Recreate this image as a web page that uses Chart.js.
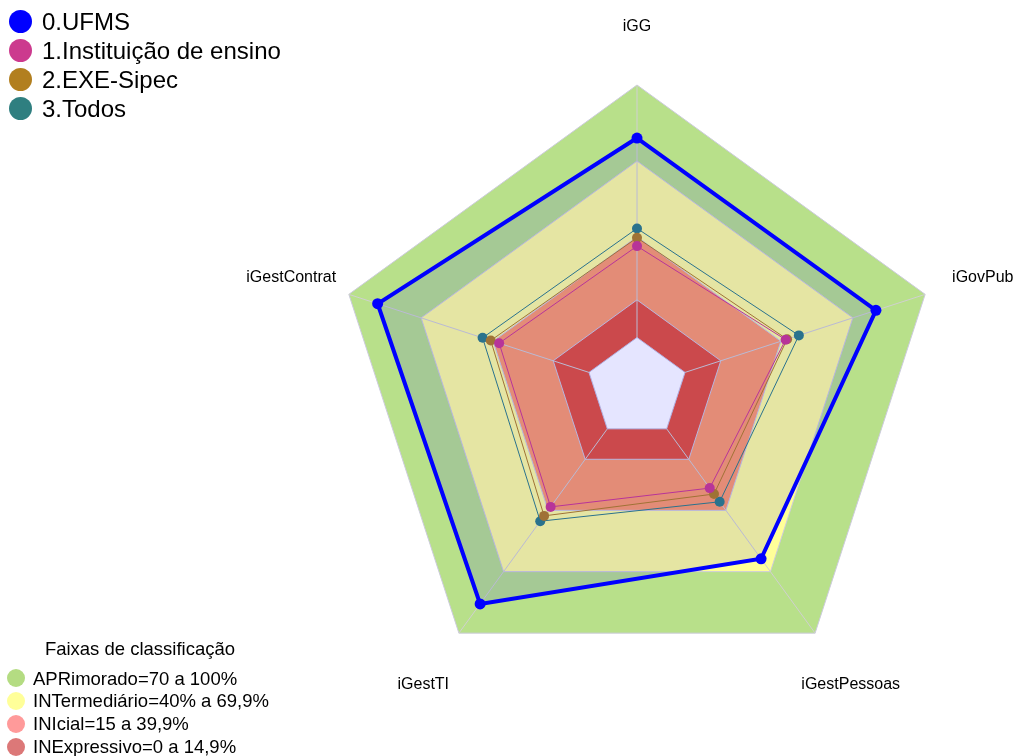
<!DOCTYPE html>
<html><head><meta charset="utf-8">
<script src="https://cdn.jsdelivr.net/npm/chart.js@4"></script>
<style>
html,body{margin:0;padding:0;background:#fff;width:1021px;height:756px;overflow:hidden;font-family:"Liberation Sans",Arial,sans-serif;}
canvas{position:absolute;left:0;top:0;}
.leg{position:absolute;white-space:nowrap;color:#000;}
.dot{position:absolute;border-radius:50%;}
</style></head><body>
<canvas id="bands" width="1021" height="756"></canvas>
<canvas id="series" width="1021" height="756"></canvas>
<div id="legend"></div>
<script>
// ---- data ----
const axes = ['iGG', 'iGovPub', 'iGestPessoas', 'iGestTI', 'iGestContrat'];
const ufms = [79.0, 79.5, 63.6, 85.7, 88.0];
const instEnsino = [36.2, 41.9, 29.0, 38.2, 37.4];
const exeSipec = [39.5, 42.5, 31.9, 42.6, 40.9];
const todos = [43.2, 47.4, 35.7, 45.2, 44.3];
const seriesNames = ['0.UFMS', '1.Instituição de ensino', '2.EXE-Sipec', '3.Todos'];
const seriesColors = ['#0000ff', '#cc3a8e', '#b27f1f', '#2f7f80'];
const bandLimits = [100, 69.9, 39.9, 14.9];
const bandNames = ['APRimorado=70 a 100%', 'INTermediário=40% a 69,9%', 'INIcial=15 a 39,9%', 'INExpressivo=0 a 14,9%'];
const bandFill = ['#b8e08a', '#ffff99', '#fd9c68', '#e35238'];
const bandLegendColors = ['#b4dc82', '#ffff99', '#ff9a9a', '#dc7878'];
const legendTitle = 'Faixas de classificação';
const scaleMin = -20, scaleMax = 100;

const FONT = '"Liberation Sans", Arial, sans-serif';
const layout = {padding: {left: 334, right: 81, top: 85, bottom: 65}};

function scaleOpts(showSpokes) {
  return {
    min: scaleMin, max: scaleMax, startAngle: 0,
    ticks: {display: false},
    grid: {display: false, z: 1},
    angleLines: {display: showSpokes, color: '#d0d0d0', lineWidth: 1},
    pointLabels: {display: false}
  };
}

// ---- bottom layer: classification bands + spokes on top of them ----
const bandDatasets = bandLimits.map((lim, i) => ({
  label: bandNames[i],
  data: axes.map(() => lim),
  fill: 'origin',
  backgroundColor: bandFill[i],
  borderColor: '#cccbdc',
  borderWidth: 1,
  pointRadius: 0,
  order: 10 - i
}));

new Chart(document.getElementById('bands'), {
  type: 'radar',
  data: {labels: axes, datasets: bandDatasets},
  options: {
    responsive: false, animation: false, layout,
    plugins: {legend: {display: false}, tooltip: {enabled: false}},
    elements: {line: {tension: 0}},
    scales: {r: scaleOpts(true)}
  }
});

// ---- top layer: series ----
const seriesData = [ufms, instEnsino, exeSipec, todos];
const seriesDatasets = seriesData.map((d, i) => ({
  label: seriesNames[i],
  data: d,
  fill: i === 0 ? 'start' : false,
  backgroundColor: i === 0 ? 'rgba(0,0,255,0.1)' : 'rgba(0,0,0,0)',
  borderColor: seriesColors[i],
  borderWidth: i === 0 ? 4 : 1,
  pointRadius: i === 0 ? 5.5 : 5,
  pointBackgroundColor: seriesColors[i],
  pointBorderColor: seriesColors[i],
  pointBorderWidth: 0,
  order: i
}));
seriesDatasets.push({
  label: 'centro',
  data: axes.map(() => 0),
  fill: 'start',
  backgroundColor: '#ffffff',
  borderColor: '#c4c0dc',
  borderWidth: 1,
  pointRadius: 0,
  order: 20
});

const axisLabelPlugin = {
  id: 'axisLabels',
  afterDraw(chart) {
    const s = chart.scales.r;
    const ctx = chart.ctx;
    ctx.save();
    ctx.font = '16px ' + FONT;
    ctx.fillStyle = '#000';
    ctx.textAlign = 'center';
    ctx.textBaseline = 'middle';
    axes.forEach((t, i) => {
      const p = s.getPointPosition(i, s.drawingArea * 1.2);
      ctx.fillText(t, p.x, p.y + 2);
    });
    ctx.restore();
  }
};

new Chart(document.getElementById('series'), {
  type: 'radar',
  data: {labels: axes, datasets: seriesDatasets},
  options: {
    responsive: false, animation: false, layout,
    plugins: {legend: {display: false}, tooltip: {enabled: false}},
    elements: {line: {tension: 0}},
    scales: {r: scaleOpts(false)}
  },
  plugins: [axisLabelPlugin]
});

// ---- legends (HTML text) ----
const leg = document.getElementById('legend');
function addItem(cx, cy, r, color, text, textX, baseline, fs) {
  const d = document.createElement('div');
  d.className = 'dot';
  d.style.left = (cx - r) + 'px'; d.style.top = (cy - r) + 'px';
  d.style.width = (2 * r) + 'px'; d.style.height = (2 * r) + 'px';
  d.style.background = color;
  leg.appendChild(d);
  const t = document.createElement('div');
  t.className = 'leg';
  const lh = Math.round(fs * 1.2);
  t.style.fontSize = fs + 'px';
  t.style.lineHeight = lh + 'px';
  t.style.left = textX + 'px';
  t.style.top = (baseline - (lh - fs * 1.117) / 2 - fs * 0.905) + 'px';
  t.textContent = text;
  leg.appendChild(t);
}
seriesNames.forEach((n, i) => {
  const base = 30 + 29 * i;
  addItem(20, base - 8.5, 11.5, seriesColors[i], n, 42, base, 24);
});
(function () {
  const fs = 18.5, lh = Math.round(fs * 1.2);
  const t = document.createElement('div');
  t.className = 'leg';
  t.style.fontSize = fs + 'px'; t.style.lineHeight = lh + 'px';
  t.style.left = '0px'; t.style.width = '280px'; t.style.textAlign = 'center';
  t.style.top = (655 - (lh - fs * 1.117) / 2 - fs * 0.905) + 'px';
  t.textContent = legendTitle;
  leg.appendChild(t);
})();
bandNames.forEach((n, i) => {
  const base = 685 + 22.8 * i;
  addItem(16, base - 6.7, 9, bandLegendColors[i], n, 33, base, 18.5);
});
</script>
</body></html>
